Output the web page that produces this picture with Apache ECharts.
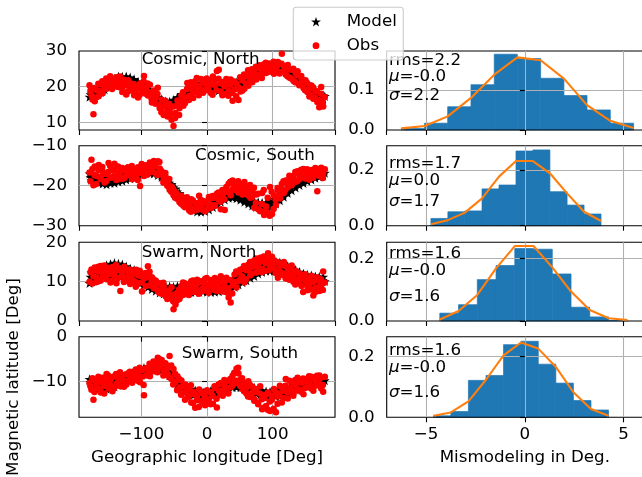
<!DOCTYPE html>
<html>
<head>
<meta charset="utf-8">
<script src="https://cdn.jsdelivr.net/npm/echarts@6/dist/echarts.min.js"></script>
<style>
  html, body { margin: 0; padding: 0; background: #fff; }
  #chart { width: 642px; height: 477px; }
</style>
</head>
<body>
<div id="chart"></div>
<script>
// Geographic longitudes of the two sample passes (deg)
const LON = [-179,-176,-173,-171,-168,-165,-162,-159,-156,-153,-150,-147,-144,-141,-138,-135,-132,-129,-126,-123,-120,-117,-114,-111,-108,-105,-102,-99,-96,-93,-90,-87,-84,-81,-78,-75,-72,-69,-66,-63,-60,-57,-54,-51,-48,-45,-42,-39,-36,-33,-30,-27,-24,-21,-18,-15,-12,-9,-6,-3,0,3,6,9,12,15,18,21,24,27,30,33,36,39,42,45,48,51,54,57,60,63,66,69,72,75,78,81,84,87,90,93,96,99,102,105,108,111,114,117,120,123,126,129,132,135,138,141,144,147,150,153,156,159,162,165,168,171,174,177];
const LON_B = [-177.5,-174.5,-171.5,-168.5,-165.5,-162.5,-159.5,-156.5,-153.5,-150.5,-147.5,-144.5,-141.5,-138.5,-135.5,-132.5,-129.5,-126.5,-123.5,-120.5,-117.5,-114.5,-111.5,-108.5,-105.5,-102.5,-99.5,-96.5,-93.5,-90.5,-87.5,-84.5,-81.5,-78.5,-75.5,-72.5,-69.5,-66.5,-63.5,-60.5,-57.5,-54.5,-51.5,-48.5,-45.5,-42.5,-39.5,-36.5,-33.5,-30.5,-27.5,-24.5,-21.5,-18.5,-15.5,-12.5,-9.5,-6.5,-3.5,-0.5,2.5,5.5,8.5,11.5,14.5,17.5,20.5,23.5,26.5,29.5,32.5,35.5,38.5,41.5,44.5,47.5,50.5,53.5,56.5,59.5,62.5,65.5,68.5,71.5,74.5,77.5,80.5,83.5,86.5,89.5,92.5,95.5,98.5,101.5,104.5,107.5,110.5,113.5,116.5,119.5,122.5,125.5,128.5,131.5,134.5,137.5,140.5,143.5,146.5,149.5,152.5,155.5,158.5,161.5,164.5,167.5,170.5,173.5,176.5,179.5];

// Magnetic latitude, Cosmic north
const MODEL_CN = [17.1,18.2,16.9,18.6,17.8,19.3,18.4,20.1,19.2,20.9,20.1,21.6,20.8,22.3,21.2,22.9,21.6,22.8,21.7,22.9,21.5,22.6,21.0,22.1,20.6,21.4,19.9,20.8,19.3,20.0,18.6,19.1,17.4,18.2,16.3,17.0,15.4,16.5,14.8,15.9,14.6,15.8,14.9,16.3,15.6,17.0,16.4,17.9,17.1,18.6,17.8,19.3,18.6,20.0,19.1,20.6,19.6,21.0,19.9,21.2,20.0,21.1,19.5,20.6,19.2,20.3,18.9,20.0,18.8,19.9,18.9,20.1,19.4,20.7,19.8,21.2,20.4,21.8,20.9,22.4,21.5,22.9,22.1,23.6,22.7,24.1,23.5,24.9,24.2,25.6,24.7,26.0,25.1,26.4,25.3,26.3,24.9,26.0,24.6,25.5,24.0,25.0,23.2,24.1,22.6,23.5,21.6,22.6,20.9,21.7,19.9,20.8,18.9,19.8,18.1,19.0,17.0,18.1,16.6,17.6];
const MODEL_CN_B = [17.8,17.5,18.4,18.2,19.1,19.0,19.8,19.9,20.6,20.5,21.3,21.1,21.9,21.7,22.3,22.0,22.5,22.0,22.4,21.9,22.2,21.5,21.8,20.9,21.1,20.3,20.4,19.7,19.8,19.0,18.9,18.0,17.9,16.9,16.7,15.9,15.9,15.2,15.4,15.0,15.4,15.3,15.9,16.1,16.6,16.9,17.4,17.7,18.2,18.4,18.9,19.1,19.5,19.8,20.0,20.3,20.2,20.6,20.4,20.6,20.3,20.3,19.9,19.9,19.6,19.5,19.3,19.5,19.2,19.5,19.5,19.9,19.9,20.4,20.5,21.0,21.1,21.6,21.6,22.2,22.3,22.8,22.9,23.5,23.6,24.2,24.3,24.8,24.9,25.4,25.5,25.8,25.7,25.9,25.6,25.7,25.3,25.3,24.8,24.7,24.2,24.0,23.4,23.2,22.6,22.3,21.8,21.5,20.9,20.7,20.0,19.8,19.1,18.9,18.2,18.1,17.5,17.4,17.0,17.3];
const OBS_CN = [20.4,17.6,12.2,15.9,19.0,17.3,20.6,18.1,21.2,19.4,22.0,20.3,21.7,20.6,22.6,19.9,21.4,18.5,20.7,17.8,21.8,19.2,20.1,17.6,19.8,16.9,20.9,18.4,23.0,19.6,17.5,20.5,15.5,18.9,16.8,19.7,13.9,16.3,12.0,14.8,11.6,13.5,10.7,8.9,12.6,16.1,13.9,17.5,14.6,16.9,21.0,17.4,19.6,16.8,21.5,18.7,20.2,22.1,18.3,20.9,19.5,21.7,18.2,22.8,20.4,24.4,24.7,18.6,21.3,17.9,20.6,18.8,22.0,16.0,19.2,20.9,16.2,18.6,21.7,19.4,22.9,20.2,23.5,21.2,24.4,22.0,25.2,23.1,24.6,26.3,23.8,25.7,24.2,26.1,23.6,25.5,26.9,24.0,29.2,25.8,23.4,26.1,22.5,24.7,21.6,23.8,24.3,20.7,22.1,19.6,21.8,18.5,17.2,20.3,16.6,18.9,15.7,14.2,19.9,14.4];
const OBS_CN_B = [18.9,16.4,19.6,17.0,20.8,18.7,21.5,19.9,22.3,20.4,22.9,19.3,21.9,20.1,21.3,22.8,19.7,21.9,20.3,18.6,21.0,18.9,20.7,18.2,19.6,17.7,19.9,21.4,18.0,20.9,18.4,16.6,17.4,15.2,17.9,15.0,12.8,14.3,16.0,13.0,15.1,12.4,14.4,11.2,14.7,12.0,15.8,18.4,15.4,19.3,16.2,21.2,18.1,20.0,22.4,17.6,19.3,21.5,18.9,22.3,19.0,20.6,17.7,21.9,19.0,22.2,20.9,17.6,20.1,22.1,17.4,20.5,18.2,21.4,17.3,19.9,22.6,18.8,23.4,20.8,24.6,21.8,24.9,22.9,25.6,23.3,26.0,22.4,25.0,26.7,24.3,26.5,24.9,27.0,24.4,25.9,23.7,26.4,24.3,25.6,22.9,24.8,22.3,25.0,21.2,23.1,20.4,23.0,21.2,19.0,21.0,19.3,17.6,19.8,16.9,18.6,16.2,18.0,15.5,17.1];

// Magnetic latitude, Cosmic south
const MODEL_CS = [-17.0,-18.6,-17.5,-19.1,-17.9,-19.3,-18.0,-19.5,-18.1,-19.7,-18.2,-19.4,-17.9,-19.3,-17.8,-19.0,-17.5,-18.8,-17.2,-18.5,-16.9,-18.2,-16.5,-17.8,-16.2,-17.4,-15.9,-17.1,-15.6,-16.9,-15.5,-16.8,-15.7,-17.0,-15.9,-17.4,-16.5,-17.9,-17.3,-18.9,-18.2,-19.8,-19.6,-21.2,-20.7,-22.3,-21.9,-23.4,-22.9,-24.5,-23.7,-25.3,-24.6,-26.1,-25.0,-26.5,-25.2,-26.6,-25.0,-26.4,-24.7,-26.0,-24.1,-25.4,-23.7,-24.9,-22.8,-24.1,-22.2,-23.5,-21.8,-23.1,-21.7,-23.0,-21.8,-23.2,-22.1,-23.6,-22.5,-24.1,-22.9,-24.5,-23.4,-25.0,-23.8,-25.4,-24.1,-25.6,-24.2,-25.7,-24.2,-25.5,-23.9,-25.1,-23.3,-24.5,-22.5,-23.7,-21.6,-22.8,-20.9,-21.9,-20.1,-21.2,-19.4,-20.5,-18.9,-19.9,-18.3,-19.4,-17.8,-18.9,-17.3,-18.5,-16.9,-18.1,-16.6,-17.8,-16.4,-17.5];
const MODEL_CS_B = [-17.9,-17.7,-18.2,-18.0,-18.5,-18.3,-18.7,-18.5,-18.9,-18.6,-18.8,-18.4,-18.7,-18.2,-18.5,-18.0,-18.2,-17.7,-17.9,-17.4,-17.5,-17.0,-17.2,-16.6,-16.8,-16.3,-16.5,-16.1,-16.3,-16.0,-16.3,-16.1,-16.5,-16.4,-16.9,-17.0,-17.5,-17.7,-18.3,-18.6,-19.3,-19.8,-20.4,-20.9,-21.5,-22.0,-22.7,-23.1,-23.8,-24.1,-24.7,-24.9,-25.4,-25.5,-25.9,-25.7,-26.0,-25.7,-25.8,-25.3,-25.3,-24.7,-24.7,-24.1,-24.0,-23.4,-23.3,-22.8,-22.8,-22.4,-22.5,-22.2,-22.5,-22.3,-22.7,-22.6,-23.1,-23.1,-23.5,-23.6,-24.0,-24.0,-24.4,-24.4,-24.8,-24.7,-25.0,-24.8,-25.1,-24.8,-24.9,-24.5,-24.6,-24.0,-24.0,-23.2,-23.1,-22.3,-22.2,-21.4,-21.3,-20.6,-20.5,-19.9,-19.8,-19.3,-19.2,-18.8,-18.7,-18.3,-18.3,-17.9,-17.9,-17.5,-17.6,-17.2,-17.3,-16.9,-17.1,-16.8];
const OBS_CS = [-16.7,-13.5,-19.9,-15.2,-17.6,-14.8,-18.3,-16.5,-19.2,-17.1,-14.3,-18.0,-16.2,-14.5,-18.6,-16.9,-17.8,-15.6,-18.1,-16.4,-17.3,-15.8,-18.4,-16.6,-17.7,-15.4,-20.1,-16.0,-17.6,-14.9,-16.3,-14.2,-15.8,-13.8,-16.9,-13.9,-15.7,-17.2,-18.4,-17.9,-19.3,-21.0,-20.2,-22.4,-21.6,-23.3,-24.1,-22.5,-25.0,-23.8,-24.6,-26.2,-23.4,-25.7,-24.3,-26.0,-22.5,-25.3,-23.8,-26.4,-24.5,-22.8,-25.6,-23.1,-24.9,-22.0,-23.6,-25.9,-22.3,-26.1,-21.5,-19.5,-22.4,-18.7,-20.6,-19.3,-21.7,-20.0,-22.2,-19.1,-21.9,-20.6,-23.0,-21.4,-25.5,-22.2,-25.9,-26.4,-21.8,-27.3,-25.2,-26.8,-20.3,-27.1,-22.4,-24.8,-21.1,-23.2,-19.6,-21.8,-18.7,-20.4,-18.0,-19.9,-17.6,-19.0,-16.4,-18.3,-17.1,-15.8,-18.2,-16.9,-18.5,-16.1,-17.4,-15.6,-21.4,-16.3,-15.5,-17.0];
const OBS_CS_B = [-18.9,-15.8,-17.3,-19.6,-16.1,-17.8,-15.3,-17.0,-18.8,-16.6,-15.1,-17.9,-16.0,-17.4,-15.2,-16.5,-18.3,-15.9,-17.6,-15.4,-17.0,-15.1,-17.8,-15.9,-18.6,-16.8,-14.6,-16.7,-15.3,-17.2,-15.0,-16.6,-14.4,-15.2,-17.3,-14.1,-16.3,-19.2,-16.8,-20.0,-18.3,-21.5,-20.9,-23.0,-22.1,-22.8,-24.5,-23.2,-25.4,-22.9,-24.9,-26.5,-23.7,-26.2,-24.4,-25.0,-23.6,-26.0,-24.2,-25.9,-23.4,-24.8,-22.6,-25.1,-23.0,-21.7,-24.0,-21.1,-23.4,-20.3,-21.6,-19.0,-21.0,-19.9,-21.2,-18.9,-20.7,-19.6,-21.3,-20.2,-22.4,-19.8,-22.9,-20.5,-24.3,-22.0,-26.2,-24.6,-21.1,-26.4,-23.0,-27.5,-21.5,-25.8,-23.4,-20.6,-22.4,-20.8,-18.9,-21.0,-19.4,-17.5,-19.1,-18.4,-16.6,-18.9,-17.2,-16.0,-17.9,-16.7,-15.9,-17.5,-16.2,-18.0,-16.6,-15.8,-17.5,-16.2,-18.1,-15.9];

// Magnetic latitude, Swarm north
const MODEL_SN = [9.6,12.3,10.1,12.8,10.4,13.1,10.9,13.6,11.2,14.2,11.3,14.5,11.6,14.8,11.4,14.6,11.2,14.4,10.9,13.9,10.6,13.4,10.2,13.0,9.8,12.5,9.5,12.0,9.1,11.3,8.6,10.7,8.1,10.2,7.6,9.6,7.2,9.3,6.9,8.9,6.8,8.8,6.6,8.7,6.7,8.9,6.9,9.0,7.1,9.3,7.2,9.4,7.3,9.5,7.4,9.6,7.4,9.6,7.5,9.5,7.4,9.5,7.3,9.4,7.4,9.5,7.5,9.6,7.7,9.9,7.9,10.2,8.3,10.6,8.6,11.1,9.2,11.6,9.8,12.2,10.3,12.8,10.9,13.5,11.4,14.1,12.0,14.6,12.4,15.0,12.7,15.2,12.8,15.3,12.7,15.2,12.5,14.9,12.1,14.5,11.7,14.0,11.2,13.5,10.7,13.0,10.3,12.5,9.9,12.1,9.6,11.8,9.3,11.6,9.1,11.4,9.0,11.3,8.9,11.2];
const MODEL_SN_B = [11.2,10.9,11.6,11.4,12.0,11.8,12.4,12.2,12.9,12.6,13.2,12.8,13.3,12.8,13.1,12.6,12.9,12.3,12.5,12.0,12.2,11.6,11.8,11.2,11.4,10.8,11.0,10.4,10.5,9.9,10.0,9.4,9.5,8.9,8.9,8.4,8.6,8.0,8.1,7.7,8.0,7.5,7.9,7.6,8.0,7.7,8.1,7.9,8.4,8.1,8.5,8.2,8.6,8.3,8.7,8.4,8.7,8.3,8.7,8.3,8.6,8.2,8.6,8.2,8.6,8.3,8.7,8.5,8.9,8.7,9.1,9.0,9.5,9.4,9.9,9.9,10.5,10.4,11.1,11.1,11.7,11.7,12.3,12.3,12.9,12.8,13.4,13.2,13.8,13.6,14.1,13.8,14.2,13.8,14.1,13.6,13.9,13.3,13.5,12.9,13.1,12.5,12.6,12.1,12.2,11.6,11.8,11.2,11.4,10.9,11.1,10.6,10.9,10.4,10.7,10.2,10.5,10.0,10.4,10.1];
const OBS_SN = [10.0,13.1,11.4,13.6,9.9,12.5,14.0,11.2,13.3,10.6,12.4,9.8,13.7,11.7,9.6,12.9,7.6,11.3,13.8,10.4,12.6,9.4,11.9,10.1,13.0,9.7,11.5,7.5,10.8,12.2,13.9,9.0,11.1,8.3,10.2,7.6,9.6,6.9,8.8,6.3,7.7,5.9,8.6,3.0,4.2,7.2,5.6,8.9,6.7,9.5,7.0,8.2,10.1,7.4,9.0,10.5,7.8,9.9,8.4,10.7,8.0,9.3,10.4,8.6,10.9,7.6,9.7,11.4,8.2,10.0,7.3,6.0,4.7,9.1,11.8,8.5,12.4,10.7,13.2,9.8,12.9,14.3,11.6,13.8,15.4,12.3,14.6,16.1,13.2,15.6,12.8,17.2,14.2,16.3,13.4,15.1,11.0,14.0,12.2,15.0,10.8,13.6,11.9,14.1,9.9,12.8,10.6,12.1,8.9,11.7,10.2,7.8,9.4,11.5,6.5,8.4,10.3,7.6,9.2,12.6];
const OBS_SN_B = [12.4,9.5,12.9,11.0,13.8,10.2,12.7,14.1,11.6,13.5,12.0,10.3,12.8,14.2,10.9,13.4,12.2,9.9,12.9,11.3,13.1,10.6,12.5,8.7,11.6,12.8,9.8,12.0,8.9,11.2,12.5,9.9,10.6,8.6,9.5,7.1,8.1,9.7,7.4,5.6,7.5,6.2,5.0,6.8,5.3,8.0,6.4,9.8,7.9,9.0,6.6,8.9,10.3,8.1,9.4,6.9,10.1,7.6,9.2,10.9,7.2,8.9,10.2,7.9,9.6,8.4,10.6,7.5,9.5,11.0,8.3,10.4,7.0,9.9,12.6,10.1,13.0,11.4,14.0,10.6,13.1,15.0,12.1,14.3,15.9,13.4,15.0,12.4,16.4,14.6,15.7,13.0,15.4,14.6,12.2,14.9,12.7,14.4,11.6,13.9,12.4,10.5,13.0,11.4,9.3,12.4,9.8,11.0,7.4,11.9,9.0,10.8,8.0,9.9,7.3,11.1,8.7,10.6,7.9,9.8];

// Magnetic latitude, Swarm south
const MODEL_SS = [-9.4,-10.8,-9.9,-11.3,-10.1,-11.6,-10.3,-11.7,-10.2,-11.6,-10.1,-11.4,-9.8,-11.1,-9.5,-10.8,-9.1,-10.4,-8.7,-10.0,-8.4,-9.6,-8.0,-9.3,-7.6,-8.9,-7.3,-8.5,-6.9,-8.1,-6.6,-7.8,-6.2,-7.5,-6.0,-7.3,-5.9,-7.4,-6.3,-7.9,-6.8,-8.6,-7.9,-9.6,-9.0,-10.6,-10.0,-11.4,-10.6,-12.1,-11.1,-12.6,-11.6,-13.0,-11.9,-13.4,-12.2,-13.6,-12.3,-13.7,-12.3,-13.6,-12.0,-13.2,-11.6,-12.8,-11.1,-12.3,-10.7,-11.8,-10.4,-11.5,-10.1,-11.3,-10.0,-11.2,-10.0,-11.3,-10.2,-11.5,-10.5,-11.8,-10.9,-12.2,-11.3,-12.6,-11.7,-12.9,-11.9,-13.2,-12.1,-13.3,-12.2,-13.4,-12.2,-13.3,-12.0,-13.2,-11.8,-12.9,-11.5,-12.6,-11.1,-12.2,-10.7,-11.8,-10.3,-11.4,-10.0,-11.0,-9.7,-10.7,-9.5,-10.5,-9.3,-10.3,-9.1,-10.1,-9.0,-10.0];
const MODEL_SS_B = [-10.1,-10.3,-10.5,-10.8,-10.7,-11.0,-10.8,-11.0,-10.7,-10.9,-10.5,-10.7,-10.3,-10.4,-9.9,-10.0,-9.5,-9.6,-9.2,-9.3,-8.8,-8.9,-8.5,-8.5,-8.1,-8.2,-7.8,-7.8,-7.4,-7.5,-7.1,-7.1,-6.8,-6.9,-6.6,-6.8,-6.6,-7.0,-7.1,-7.6,-7.9,-8.6,-8.9,-9.6,-9.9,-10.5,-10.8,-11.2,-11.5,-11.8,-11.9,-12.3,-12.4,-12.7,-12.7,-13.0,-12.9,-13.1,-12.9,-13.1,-12.8,-12.8,-12.4,-12.4,-11.9,-11.9,-11.5,-11.4,-11.0,-11.1,-10.7,-10.8,-10.5,-10.7,-10.5,-10.7,-10.6,-10.9,-10.9,-11.2,-11.2,-11.6,-11.6,-12.0,-11.9,-12.3,-12.2,-12.6,-12.5,-12.8,-12.6,-12.9,-12.7,-12.9,-12.6,-12.8,-12.4,-12.5,-12.1,-12.2,-11.8,-11.8,-11.4,-11.4,-11.0,-11.1,-10.7,-10.8,-10.4,-10.5,-10.2,-10.3,-9.9,-10.1,-9.8,-9.9,-9.7,-9.8,-9.5,-9.7];
const OBS_SS = [-10.3,-11.8,-14.0,-9.6,-11.2,-10.0,-12.4,-9.1,-10.9,-8.3,-11.5,-9.6,-12.1,-8.8,-10.5,-9.2,-11.0,-8.5,-9.8,-10.6,-8.1,-9.3,-10.2,-7.9,-9.0,-8.3,-10.1,-7.4,-13.0,-8.6,-6.9,-8.8,-6.3,-7.7,-5.6,-4.7,-6.8,-5.2,-7.5,-6.1,-8.3,-4.3,-9.4,-7.2,-10.1,-8.8,-11.3,-9.7,-12.4,-10.6,-13.5,-11.5,-14.6,-12.2,-15.8,-13.1,-11.7,-14.3,-12.6,-15.2,-11.9,-13.8,-12.4,-14.9,-11.4,-15.7,-12.0,-10.3,-13.1,-10.9,-12.3,-9.8,-11.2,-8.7,-10.4,-7.1,-8.2,-9.5,-11.6,-10.3,-12.6,-9.9,-13.4,-11.1,-14.2,-12.3,-15.0,-11.0,-16.1,-13.6,-15.4,-12.4,-16.5,-14.0,-11.6,-16.8,-13.3,-10.9,-14.6,-12.0,-9.4,-13.7,-11.3,-10.0,-12.5,-10.8,-9.1,-11.7,-10.2,-12.8,-9.6,-11.1,-10.4,-8.9,-12.0,-9.7,-10.8,-8.6,-11.5,-12.2];
const OBS_SS_B = [-11.0,-9.2,-12.3,-10.4,-8.9,-11.6,-10.2,-12.6,-9.9,-8.6,-10.8,-9.0,-11.4,-8.3,-10.1,-7.9,-9.7,-11.1,-8.4,-10.0,-7.8,-9.5,-8.9,-7.3,-9.8,-6.9,-8.9,-10.7,-7.0,-8.3,-6.0,-7.4,-5.5,-6.5,-7.9,-5.0,-6.2,-8.6,-5.9,-7.0,-9.0,-6.4,-10.6,-8.3,-11.9,-9.4,-12.9,-11.0,-14.0,-12.1,-13.2,-10.8,-14.7,-12.9,-14.1,-15.6,-12.4,-14.6,-13.3,-14.0,-12.2,-15.0,-13.1,-11.0,-13.8,-10.6,-12.9,-11.9,-9.6,-11.5,-12.6,-9.4,-10.9,-8.0,-9.8,-6.9,-10.9,-9.2,-12.1,-11.4,-13.3,-10.7,-12.5,-13.8,-11.6,-14.6,-12.6,-13.9,-15.8,-12.9,-16.2,-14.4,-13.1,-16.0,-12.3,-14.9,-12.6,-11.2,-13.6,-10.9,-12.4,-9.8,-11.9,-13.1,-9.6,-11.8,-10.0,-12.2,-9.3,-11.4,-10.1,-8.8,-11.5,-9.4,-10.9,-8.7,-10.4,-9.1,-10.7,-8.9];

// Mismodeling histograms (density): bin edges, bar heights, Gaussian fit at the edges
const EDGES_CN = [-6.26,-5.08,-3.91,-2.73,-1.55,-0.38,0.80,1.98,3.15,4.33,5.51];
const HIST_CN  = [0.004,0.017,0.058,0.113,0.189,0.178,0.129,0.086,0.050,0.017];
const FIT_CN   = [0.004,0.010,0.034,0.080,0.138,0.181,0.174,0.128,0.062,0.023,0.005];

const EDGES_CS = [-4.76,-3.90,-3.04,-2.17,-1.31,-0.45,0.41,1.27,2.14,3.00,3.86];
const HIST_CS  = [0.026,0.050,0.053,0.132,0.146,0.268,0.272,0.122,0.074,0.042];
const FIT_CS   = [0.005,0.020,0.047,0.098,0.176,0.232,0.232,0.188,0.116,0.050,0.017];

const EDGES_SN = [-4.31,-3.36,-2.41,-1.46,-0.51,0.44,1.39,2.34,3.29,4.25,5.20];
const HIST_SN  = [0.025,0.052,0.132,0.177,0.231,0.229,0.150,0.044,0.013,0.002];
const FIT_SN   = [0.005,0.032,0.083,0.168,0.239,0.239,0.171,0.094,0.035,0.009,0.003];

const EDGES_SS = [-4.63,-3.75,-2.86,-1.97,-1.08,-0.20,0.68,1.57,2.46,3.35,4.24];
const HIST_SS  = [0.005,0.019,0.121,0.137,0.238,0.249,0.174,0.112,0.055,0.024];
const FIT_SS   = [0.005,0.016,0.052,0.123,0.203,0.245,0.225,0.165,0.082,0.027,0.005];

// Panel captions and fit statistics
const TITLES = ['Cosmic, North', 'Cosmic, South', 'Swarm, North', 'Swarm, South'];
const RMS   = ['2.2', '1.7', '1.6', '1.6'];
const MU    = ['-0.0', '0.0', '-0.0', '-0.0'];
const SIGMA = ['2.2', '1.7', '1.6', '1.6'];
const LEGEND_NAMES = ['Model', 'Obs'];

// Axis ranges
const LAT_RANGE = [[7.8, 30], [-30, -10], [0, 20], [-17.9, 0]];
const DENS_MAX = [0.197, 0.287, 0.251, 0.264];
const DENS_STEP = [0.1, 0.2, 0.2, 0.2];

const MODELS = [[MODEL_CN, MODEL_CN_B], [MODEL_CS, MODEL_CS_B], [MODEL_SN, MODEL_SN_B], [MODEL_SS, MODEL_SS_B]];
const OBSS = [[OBS_CN, OBS_CN_B], [OBS_CS, OBS_CS_B], [OBS_SN, OBS_SN_B], [OBS_SS, OBS_SS_B]];
const EDGES = [EDGES_CN, EDGES_CS, EDGES_SN, EDGES_SS];
const HISTS = [HIST_CN, HIST_CS, HIST_SN, HIST_SS];
const FITS = [FIT_CN, FIT_CS, FIT_SN, FIT_SS];

const pairs = (pass) => LON.map((x, i) => [x, pass[0][i]]).concat(LON_B.map((x, i) => [x, pass[1][i]]));

// ---- layout ----
const FONT = 'DejaVu Sans';
const FS = 16.7;
const ROW_TOP = [51, 145.7, 242.3, 336.7];
const ROW_H = [79, 80, 78.7, 80.6];
const LEFT_X = 79, LEFT_W = 256;
const RIGHT_X = 386.7, RIGHT_W = 276.3;
const TITLE_POS = [[141.7, 60], [195, 156], [141.7, 252.7], [181.7, 354]];
const STAT_X = 389;
const STAT_Y = [[60.5, 76.5, 95.5], [164, 181, 202], [253.3, 270.5, 297], [350.7, 367.8, 393]];
const LEG = { x: 293.3, y: 7.3, w: 110, h: 52.7, markX: 316, textX: 346.7, rowY: [21.7, 45.7] };

// Five-pointed star glyph (unit outer radius), used for the model markers
const STAR_PTS = [[0,-1],[0.2245,-0.309],[0.951,-0.309],[0.363,0.118],[0.588,0.809],[0,0.382],[-0.588,0.809],[-0.363,0.118],[-0.951,-0.309],[-0.2245,-0.309]];
const STAR = 'path://M' + STAR_PTS.map(p => (p[0] * 100).toFixed(2) + ',' + (p[1] * 100).toFixed(2)).join(' L') + ' Z';

const minus = v => (v < 0 ? '\u2212' : '') + Math.abs(v);

const grids = [], xAxes = [], yAxes = [], series = [], graphics = [];

const tickStyle = { show: true, length: 5, inside: false, lineStyle: { color: '#000', width: 1.1 } };
const splitStyle = { show: true, showMinLine: false, showMaxLine: false, lineStyle: { color: '#b0b0b0', width: 1.1 } };
const labelBase = { fontFamily: FONT, fontSize: FS, color: '#000' };

for (let r = 0; r < 4; r++) {
  const gridBase = { top: ROW_TOP[r], height: ROW_H[r], outerBoundsMode: 'none', containLabel: false,
    show: true, borderColor: '#000', borderWidth: 1.1, backgroundColor: 'transparent' };
  grids.push(Object.assign({ left: LEFT_X, width: LEFT_W }, gridBase));   // latitude vs longitude
  grids.push(Object.assign({ left: RIGHT_X, width: RIGHT_W }, gridBase)); // mismodeling histogram
}

for (let r = 0; r < 4; r++) {
  const bottom = r === 3;
  const gL = 2 * r, gR = 2 * r + 1;
  xAxes[gL] = {
    type: 'value', gridIndex: gL, min: -195, max: 195, minInterval: 100, maxInterval: 100,
    axisLine: { show: false }, axisTick: tickStyle, splitLine: splitStyle,
    axisLabel: Object.assign({ show: bottom, margin: 9, showMinLabel: false, showMaxLabel: false, formatter: minus }, labelBase),
    name: bottom ? 'Geographic longitude [Deg]' : '', nameLocation: 'middle', nameGap: 32,
    nameTextStyle: labelBase
  };
  xAxes[gR] = {
    type: 'value', gridIndex: gR, min: -7, max: 7, minInterval: 5, maxInterval: 5,
    axisLine: { show: false }, axisTick: tickStyle, splitLine: splitStyle,
    axisLabel: Object.assign({ show: bottom, margin: 9, showMinLabel: false, showMaxLabel: false, formatter: minus }, labelBase),
    name: bottom ? 'Mismodeling in Deg.' : '', nameLocation: 'middle', nameGap: 32,
    nameTextStyle: labelBase
  };
  const lr = LAT_RANGE[r];
  yAxes[gL] = {
    type: 'value', gridIndex: gL, min: lr[0], max: lr[1], minInterval: 10, maxInterval: 10,
    axisLine: { show: false }, axisTick: tickStyle, splitLine: splitStyle,
    axisLabel: Object.assign({ margin: 12, showMinLabel: lr[0] % 10 === 0, showMaxLabel: lr[1] % 10 === 0, formatter: minus }, labelBase),
    name: bottom ? 'Magnetic latitude [Deg]' : '', nameLocation: 'middle', nameGap: 57,
    nameTextStyle: labelBase
  };
  yAxes[gR] = {
    type: 'value', gridIndex: gR, min: 0, max: DENS_MAX[r], minInterval: DENS_STEP[r], maxInterval: DENS_STEP[r],
    axisLine: { show: false }, axisTick: tickStyle, splitLine: splitStyle,
    axisLabel: Object.assign({ margin: 12, showMinLabel: true, showMaxLabel: false, formatter: v => v.toFixed(1) }, labelBase)
  };

  series.push({
    name: LEGEND_NAMES[0], type: 'scatter', xAxisIndex: gL, yAxisIndex: gL,
    symbol: STAR, symbolKeepAspect: true, symbolSize: 10,
    itemStyle: { color: '#000', opacity: 1 }, z: 2,
    data: pairs(MODELS[r])
  });
  series.push({
    name: LEGEND_NAMES[1], type: 'scatter', xAxisIndex: gL, yAxisIndex: gL,
    symbol: 'circle', symbolSize: 6.5,
    itemStyle: { color: '#ff0000', opacity: 1 }, z: 3,
    data: pairs(OBSS[r])
  });
  series.push({
    name: 'hist' + r, type: 'custom', xAxisIndex: gR, yAxisIndex: gR, z: -1,
    encode: { x: [0, 1], y: 2 },
    data: HISTS[r].map((h, i) => [EDGES[r][i], EDGES[r][i + 1], h]),
    renderItem: (params, api) => {
      const p0 = api.coord([api.value(0), api.value(2)]);
      const p1 = api.coord([api.value(1), 0]);
      return { type: 'rect', shape: { x: p0[0], y: p0[1], width: p1[0] - p0[0], height: p1[1] - p0[1] },
        style: { fill: '#1f77b4', stroke: '#1f77b4', lineWidth: 0.7 } };
    }
  });
  series.push({
    name: 'fit' + r, type: 'line', xAxisIndex: gR, yAxisIndex: gR, z: 3,
    showSymbol: false, symbol: 'none',
    lineStyle: { color: '#ff7f0e', width: 2.1 },
    data: EDGES[r].map((x, i) => [x, FITS[r][i]])
  });

  graphics.push({ type: 'text', x: TITLE_POS[r][0], y: TITLE_POS[r][1], z: 10,
    style: { text: TITLES[r], fontFamily: FONT, fontSize: FS, fill: '#000', verticalAlign: 'middle' } });
  const statLines = ['rms=' + RMS[r], '{g|\u03bc}=' + MU[r], '{g|\u03c3}=' + SIGMA[r]];
  statLines.forEach((t, k) => {
    graphics.push({ type: 'text', x: STAT_X, y: STAT_Y[r][k], z: 10,
      style: { text: t, fontFamily: FONT, fontSize: FS, fill: '#000', verticalAlign: 'middle',
        rich: { g: { fontFamily: FONT, fontSize: FS, fontStyle: 'italic', fill: '#000' } } } });
  });
}

// Legend box drawn on top of the first panel
graphics.push({ type: 'rect', z: 50, shape: { x: LEG.x, y: LEG.y, width: LEG.w, height: LEG.h, r: 3 },
  style: { fill: 'rgba(255,255,255,0.8)', stroke: '#cccccc', lineWidth: 1.1 } });
graphics.push({ type: 'polygon', z: 51,
  shape: { points: STAR_PTS.map(p => [LEG.markX + p[0] * 5.2, LEG.rowY[0] + 0.5 + p[1] * 5.2]) },
  style: { fill: '#000' } });
graphics.push({ type: 'circle', z: 51, shape: { cx: LEG.markX, cy: LEG.rowY[1], r: 3.4 }, style: { fill: '#ff0000' } });
LEGEND_NAMES.forEach((n, k) => {
  graphics.push({ type: 'text', z: 51, x: LEG.textX, y: LEG.rowY[k],
    style: { text: n, fontFamily: FONT, fontSize: FS, fill: '#000', verticalAlign: 'middle' } });
});

const chart = echarts.init(document.getElementById('chart'), null, { renderer: 'canvas' });
chart.setOption({
  animation: false,
  backgroundColor: '#fff',
  textStyle: { fontFamily: FONT },
  grid: grids,
  xAxis: xAxes,
  yAxis: yAxes,
  series: series,
  graphic: graphics
});
</script>
</body>
</html>
